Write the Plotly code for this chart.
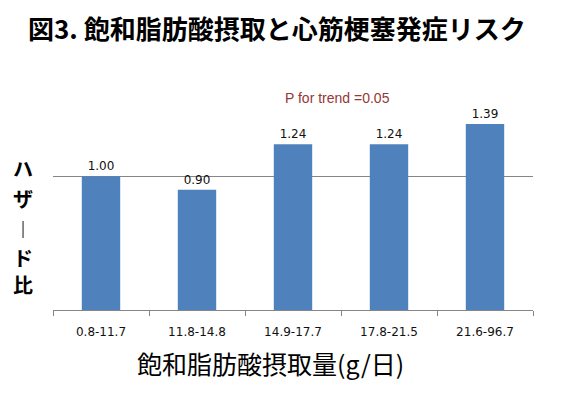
import plotly.graph_objects as go

categories = ["0.8-11.7", "11.8-14.8", "14.9-17.7", "17.8-21.5", "21.6-96.7"]
hazard_ratio = [1.00, 0.90, 1.24, 1.24, 1.39]
title_text = "図3. 飽和脂肪酸摂取と心筋梗塞発症リスク"
x_title = "飽和脂肪酸摂取量(g/日)"
y_title_chars = ["ハ", "ザ", "︱", "ド", "比"]
trend_text = "P for trend =0.05"

# page is offset by the browser's 8px body margin
PX0, PX1, PY0, PY1 = 53, 533, 96, 310


def px(x):
    return (x - PX0) / (PX1 - PX0)


def py(y):
    return (PY1 - y) / (PY1 - PY0)


fig = go.Figure()
fig.add_trace(go.Bar(
    x=categories, y=hazard_ratio,
    marker=dict(color="#4F81BD", line=dict(width=0)),
    width=0.4,
    texttemplate="%{y:.2f}", textposition="outside",
    textfont=dict(family="DejaVu Sans", size=12, color="#111111"),
    cliponaxis=False,
))

fig.update_layout(
    width=565, height=390,
    margin=dict(l=45, r=40, t=88, b=88),
    paper_bgcolor="white", plot_bgcolor="white",
    showlegend=False,
    font=dict(family="Noto Sans CJK JP"),
    xaxis=dict(showline=True, linecolor="#868686", linewidth=1,
               ticks="outside", tickson="boundaries", ticklen=5, tickcolor="#868686",
               ticklabelstandoff=11,
               tickfont=dict(family="DejaVu Sans", size=12, color="#111111"),
               showgrid=False),
    yaxis=dict(range=[0, 1.6], tickvals=[1], showticklabels=False,
               showgrid=True, gridcolor="#868686", gridwidth=1,
               zeroline=False, showline=False),
)

fig.add_annotation(xref="paper", yref="paper", x=px(277), y=py(28),
                   xanchor="center", yanchor="middle", showarrow=False,
                   text="<b>" + title_text + "</b>",
                   font=dict(family="Noto Sans CJK JP", size=26, color="black"))

fig.add_annotation(xref="paper", yref="paper", x=px(283), y=py(98),
                   xanchor="left", yanchor="middle", showarrow=False,
                   text=trend_text, font=dict(family="Liberation Sans", size=14, color="#953735"))

fig.add_annotation(xref="paper", yref="paper", x=px(270), y=py(363),
                   xanchor="center", yanchor="middle", showarrow=False,
                   text=x_title, font=dict(family="Noto Sans CJK JP", size=25, color="black"))

y_positions = [168, 198, 228, 257, 284]
for ch, yy in zip(y_title_chars, y_positions):
    fig.add_annotation(xref="paper", yref="paper", x=px(23), y=py(yy),
                       xanchor="center", yanchor="middle", showarrow=False,
                       text="<b>" + ch + "</b>",
                       font=dict(family="Noto Sans CJK JP", size=20, color="black"))

fig.write_html("out.html")
